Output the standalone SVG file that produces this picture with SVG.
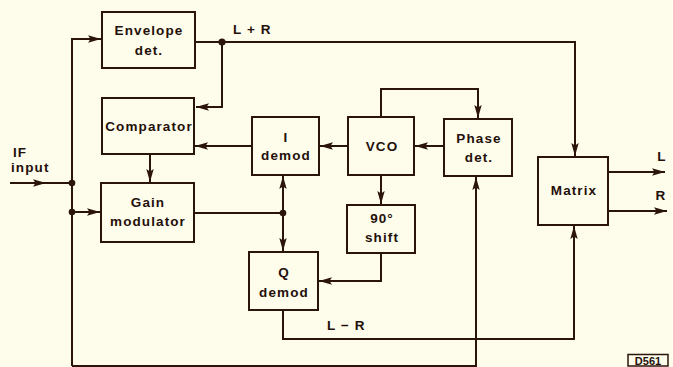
<svg xmlns="http://www.w3.org/2000/svg" width="673" height="367" viewBox="0 0 673 367">
<defs>
<style>
.bx{fill:none;stroke:#2b1409;stroke-width:2}
.ln{fill:none;stroke:#2b1409;stroke-width:2}
.ar{fill:none;stroke:#2b1409;stroke-width:2;marker-end:url(#ah)}
.dot{fill:#2b1409}
text{font-family:"Liberation Sans",Arial,sans-serif;font-weight:bold;font-size:13.5px;fill:#24100a;letter-spacing:1.1px}
.c{text-anchor:middle}
</style>
<marker id="ah" viewBox="0 0 13 9" refX="13" refY="4.5" markerWidth="13" markerHeight="9" markerUnits="userSpaceOnUse" orient="auto">
<path d="M0,0.8 L13,4.5 L0,8.2 L2.5,4.5 Z" fill="#2b1409"/>
</marker>
</defs>
<rect width="673" height="367" fill="#fefdec"/>

<g id="connectors">
<path class="ar" d="M10,183 H46"/>
<path class="ln" d="M44,183 H72"/>
<path class="ar" d="M72,366 V39 H101"/>
<path class="ar" d="M72,212 H100"/>
<path class="ln" d="M72,366 H476"/>
<path class="ar" d="M195,42 H575 V156"/>
<path class="ar" d="M222,42 V107 H196"/>
<path class="ar" d="M150,154 V182"/>
<path class="ar" d="M252,146 H195"/>
<path class="ar" d="M348,146 H320"/>
<path class="ar" d="M444,146 H415"/>
<path class="ar" d="M381,117 V89 H478 V118"/>
<path class="ar" d="M381,175 V204"/>
<path class="ar" d="M381,253 V281 H319"/>
<path class="ln" d="M194,213 H283"/>
<path class="ar" d="M283,213 V176"/>
<path class="ar" d="M283,213 V251"/>
<path class="ar" d="M283,310 V339 H574 V226"/>
<path class="ar" d="M476,367 V177"/>
<path class="ar" d="M608,172 H665"/>
<path class="ar" d="M608,211 H667"/>
<circle class="dot" cx="72" cy="183" r="3.3"/>
<circle class="dot" cx="72" cy="212" r="3.3"/>
<circle class="dot" cx="222" cy="42" r="3.6"/>
<circle class="dot" cx="283" cy="213" r="3.3"/>
<text x="233" y="34">L + R</text>
<text x="327" y="330">L − R</text>
<text x="13" y="157">IF</text>
<text x="11" y="172">input</text>
<text x="662" y="161" class="c">L</text>
<text x="661" y="200" class="c">R</text>
</g>

<g id="envelope">
<rect class="bx" x="102" y="12" width="93" height="56"/>
<text class="c" x="149" y="35">Envelope</text>
<text class="c" x="149" y="55">det.</text>
</g>
<g id="comparator">
<rect class="bx" x="102" y="98" width="92" height="56"/>
<text class="c" x="149" y="131">Comparator</text>
</g>
<g id="gain">
<rect class="bx" x="101" y="183" width="93" height="59"/>
<text class="c" x="148" y="207">Gain</text>
<text class="c" x="148" y="226">modulator</text>
</g>
<g id="idemod">
<rect class="bx" x="252" y="117" width="67" height="58"/>
<text class="c" x="286" y="142">I</text>
<text class="c" x="286" y="160">demod</text>
</g>
<g id="qdemod">
<rect class="bx" x="249" y="252" width="69" height="58"/>
<text class="c" x="284" y="277">Q</text>
<text class="c" x="284" y="297">demod</text>
</g>
<g id="vco">
<rect class="bx" x="348" y="117" width="66" height="58"/>
<text class="c" x="382" y="151">VCO</text>
</g>
<g id="phase">
<rect class="bx" x="444" y="119" width="68" height="57"/>
<text class="c" x="479" y="143">Phase</text>
<text class="c" x="479" y="162">det.</text>
</g>
<g id="shift">
<rect class="bx" x="347" y="205" width="68" height="48"/>
<text class="c" x="382" y="223">90°</text>
<text class="c" x="382" y="242">shift</text>
</g>
<g id="matrix">
<rect class="bx" x="538" y="157" width="70" height="68"/>
<text class="c" x="574" y="195">Matrix</text>
</g>
<g id="label">
<rect x="628" y="354.5" width="40" height="11.5" fill="none" stroke="#2b1409" stroke-width="1.5"/>
<text class="c" x="648" y="364.5" style="font-size:11px;letter-spacing:0">D561</text>
</g>
</svg>
